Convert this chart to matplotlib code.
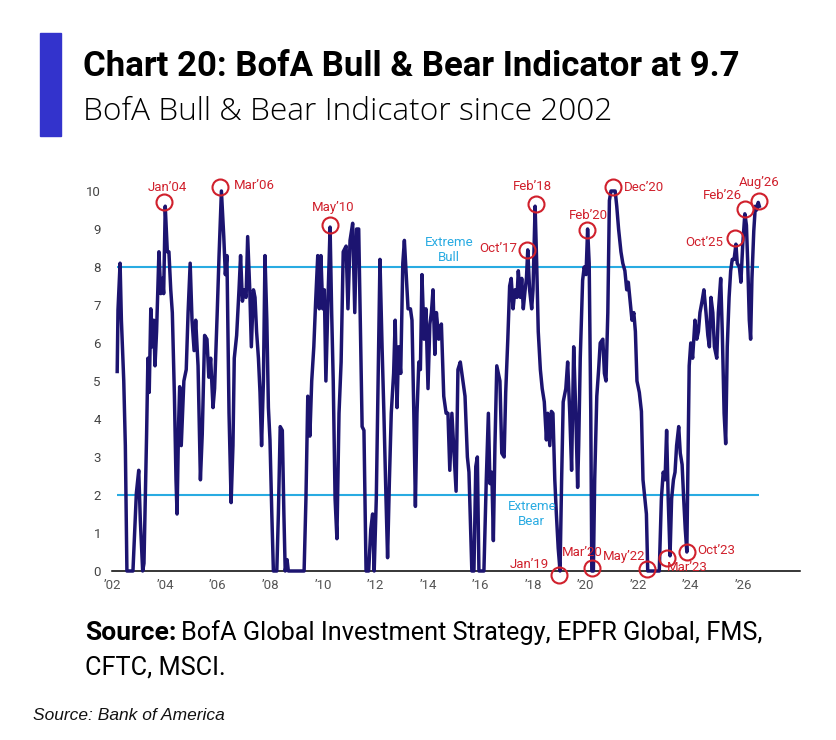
import numpy as np
import matplotlib
matplotlib.use("Agg")
import matplotlib.pyplot as plt
from matplotlib import font_manager
from matplotlib.patches import Rectangle

# BofA Bull & Bear Indicator
dates = [
    2002.16, 2002.19, 2002.27, 2002.32, 2002.41, 2002.47, 2002.53, 2002.76, 2002.89, 2002.98,
    2003.04, 2003.13, 2003.18, 2003.28, 2003.33, 2003.38, 2003.44, 2003.50, 2003.55, 2003.60,
    2003.66, 2003.71, 2003.75, 2003.82, 2003.88, 2003.93, 2003.99, 2004.07, 2004.13, 2004.20,
    2004.26, 2004.34, 2004.40, 2004.44, 2004.50, 2004.54, 2004.60, 2004.70, 2004.79, 2004.86,
    2004.94, 2005.01, 2005.09, 2005.15, 2005.24, 2005.33, 2005.40, 2005.49, 2005.58, 2005.65,
    2005.72, 2005.81, 2005.87, 2005.97, 2006.04, 2006.13, 2006.22, 2006.28, 2006.34, 2006.42,
    2006.50, 2006.57, 2006.62, 2006.71, 2006.80, 2006.86, 2006.93, 2007.00, 2007.07, 2007.13,
    2007.21, 2007.27, 2007.35, 2007.41, 2007.47, 2007.54, 2007.60, 2007.66, 2007.73, 2007.79,
    2007.86, 2007.92, 2007.98, 2008.05, 2008.11, 2008.24, 2008.30, 2008.37, 2008.45, 2008.51,
    2008.56, 2008.63, 2008.68, 2009.28, 2009.35, 2009.42, 2009.50, 2009.57, 2009.65, 2009.72,
    2009.80, 2009.86, 2009.92, 2009.99, 2010.05, 2010.11, 2010.20, 2010.27, 2010.33, 2010.39,
    2010.46, 2010.53, 2010.61, 2010.69, 2010.77, 2010.88, 2010.95, 2011.03, 2011.13, 2011.21,
    2011.28, 2011.36, 2011.44, 2011.49, 2011.56, 2011.64, 2011.74, 2011.82, 2011.89, 2011.95,
    2012.03, 2012.10, 2012.17, 2012.25, 2012.32, 2012.40, 2012.46, 2012.53, 2012.60, 2012.69,
    2012.75, 2012.82, 2012.88, 2012.96, 2013.04, 2013.10, 2013.17, 2013.24, 2013.33, 2013.39,
    2013.46, 2013.52, 2013.58, 2013.65, 2013.71, 2013.77, 2013.85, 2013.92, 2014.00, 2014.07,
    2014.13, 2014.19, 2014.26, 2014.32, 2014.41, 2014.51, 2014.60, 2014.69, 2014.76, 2014.83,
    2014.91, 2014.99, 2015.07, 2015.14, 2015.23, 2015.33, 2015.41, 2015.50, 2015.56, 2015.67,
    2015.75, 2015.82, 2015.88, 2015.94, 2016.13, 2016.22, 2016.30, 2016.36, 2016.43, 2016.49,
    2016.55, 2016.62, 2016.68, 2016.74, 2016.81, 2016.90, 2016.96, 2017.04, 2017.11, 2017.17,
    2017.24, 2017.31, 2017.39, 2017.44, 2017.52, 2017.57, 2017.63, 2017.70, 2017.75, 2017.80,
    2017.87, 2017.95, 2018.00, 2018.08, 2018.14, 2018.20, 2018.28, 2018.35, 2018.43, 2018.51,
    2018.56, 2018.64, 2018.70, 2018.76, 2018.83, 2018.89, 2018.96, 2019.03, 2019.09, 2019.15,
    2019.25, 2019.32, 2019.40, 2019.47, 2019.55, 2019.63, 2019.70, 2019.74, 2019.80, 2019.89,
    2019.95, 2020.02, 2020.08, 2020.14, 2020.20, 2020.24, 2020.30, 2020.35, 2020.43, 2020.50,
    2020.56, 2020.66, 2020.72, 2020.78, 2020.85, 2020.91, 2020.97, 2021.13, 2021.19, 2021.26,
    2021.35, 2021.42, 2021.50, 2021.57, 2021.63, 2021.70, 2021.77, 2021.84, 2021.90, 2021.96,
    2022.05, 2022.13, 2022.19, 2022.26, 2022.32, 2022.37, 2022.81, 2022.89, 2022.96, 2023.03,
    2023.09, 2023.15, 2023.22, 2023.28, 2023.35, 2023.41, 2023.47, 2023.55, 2023.61, 2023.68,
    2023.74, 2023.80, 2023.86, 2023.95, 2024.01, 2024.08, 2024.17, 2024.24, 2024.30, 2024.36,
    2024.44, 2024.51, 2024.59, 2024.66, 2024.72, 2024.78, 2024.85, 2024.91, 2025.00, 2025.06,
    2025.15, 2025.21, 2025.28, 2025.34, 2025.40, 2025.47, 2025.53, 2025.59, 2025.66, 2025.73,
    2025.78, 2025.86, 2025.92, 2025.99, 2026.07, 2026.13, 2026.18, 2026.24, 2026.29, 2026.34,
    2026.41, 2026.47, 2026.52, 2026.58, 2026.62,
]
values = [
    5.25, 6.87, 8.1, 6.6, 5.0, 3.3, 0.0, 0.0, 2.05, 2.65,
    1.35, 0.0, 0.2, 3.6, 5.6, 4.7, 6.9, 5.9, 6.6, 5.4,
    6.3, 7.5, 8.4, 7.3, 7.7, 7.3, 9.6, 8.4, 8.4, 7.4,
    6.8, 4.6, 2.4, 1.5, 3.9, 4.85, 3.3, 5.0, 5.3, 6.8,
    8.1, 6.6, 5.8, 6.6, 5.4, 2.4, 3.6, 6.2, 6.1, 5.1,
    5.6, 4.3, 4.8, 6.8, 8.3, 10.0, 8.8, 7.8, 8.3, 4.15,
    1.8, 3.3, 5.6, 6.2, 7.4, 8.3, 7.1, 7.4, 7.2, 8.8,
    7.4, 5.9, 7.4, 7.2, 6.3, 5.6, 4.7, 3.3, 5.0, 8.3,
    6.6, 4.3, 3.45, 1.5, 0.0, 0.0, 1.5, 3.8, 3.7, 1.5,
    0.0, 0.3, 0.0, 0.0, 1.9, 4.6, 3.55, 5.0, 5.9, 7.1,
    8.3, 6.9, 8.3, 6.9, 7.4, 5.0, 7.4, 9.05, 6.8, 5.0,
    1.9, 0.85, 4.15, 5.5, 8.4, 8.55, 6.9, 8.7, 9.15, 6.8,
    9.0, 9.0, 5.9, 3.8, 3.7, 0.0, 0.0, 1.1, 1.5, 0.0,
    1.9, 5.0, 8.2, 5.9, 4.15, 1.9, 0.35, 2.4, 4.15, 5.2,
    6.6, 4.3, 5.9, 5.2, 8.1, 8.7, 7.8, 6.9, 6.9, 6.6,
    4.15, 1.7, 4.15, 5.5, 5.3, 7.8, 6.1, 6.9, 4.8, 6.5,
    6.8, 7.4, 5.7, 6.8, 6.1, 6.5, 4.6, 4.15, 4.15, 2.65,
    4.15, 3.1, 2.1, 5.3, 5.5, 5.0, 4.6, 3.0, 2.6, 0.0,
    0.0, 2.75, 3.0, 0.0, 0.0, 2.4, 4.15, 2.3, 2.6, 0.8,
    3.3, 5.4, 5.2, 5.0, 3.1, 3.0, 4.7, 6.1, 7.5, 7.7,
    6.9, 7.4, 7.2, 7.9, 7.2, 7.7, 6.9, 7.4, 7.7, 8.45,
    7.4, 6.9, 7.4, 9.6, 8.1, 6.3, 5.3, 4.8, 4.45, 3.45,
    4.15, 3.3, 4.2, 4.15, 2.4, 1.5, 0.6, 0.0, 2.4, 4.45,
    4.8, 5.5, 4.15, 2.65, 5.9, 4.15, 2.2, 3.3, 5.6, 7.65,
    8.0, 7.8, 9.0, 8.1, 4.2, 0.0, 0.0, 2.4, 4.6, 5.3,
    6.0, 6.1, 5.2, 5.0, 6.8, 9.75, 10.0, 10.0, 9.6, 9.0,
    8.4, 8.1, 7.9, 7.4, 7.6, 7.1, 6.6, 6.8, 6.3, 5.0,
    4.7, 4.2, 2.4, 1.9, 1.5, 0.0, 0.0, 1.9, 2.6, 2.4,
    3.7, 1.9, 0.4, 1.9, 2.4, 2.6, 3.3, 3.8, 3.1, 2.8,
    1.9, 1.1, 0.5, 5.4, 6.0, 5.6, 6.6, 6.1, 6.3, 6.8,
    7.1, 7.4, 6.8, 6.2, 5.9, 7.2, 6.8, 5.9, 5.6, 6.8,
    7.7, 6.3, 4.15, 3.35, 5.9, 7.2, 7.9, 8.2, 8.2, 8.6,
    8.1, 8.0, 7.6, 8.6, 9.4, 9.1, 8.1, 6.6, 6.1, 7.7,
    8.95, 9.6, 9.5, 9.7, 9.6,
]

bull_level = 8
bear_level = 2

# circled extremes
ann_labels = ["Jan’04", "Mar’06", "May’10", "Oct’17", "Feb’18", "Jan’19", "Feb’20", "Mar’20",
              "Dec’20", "May’22", "Mar’23", "Oct’23", "Oct’25", "Feb’26", "Aug’26"]
ann_dates = [2003.94, 2006.08, 2010.27, 2017.77, 2018.10, 2018.99, 2020.05, 2020.24,
             2021.05, 2022.34, 2023.10, 2023.86, 2025.70, 2026.08, 2026.61]
ann_values = [9.71, 10.1, 9.1, 8.45, 9.66, -0.1, 8.97, 0.08,
              10.1, 0.05, 0.35, 0.5, 8.76, 9.53, 9.74]
# label offset in pixels from the circle + alignment
ann_offsets = [(3, 15, "center"), (14, 2, "left"), (3, 18, "center"), (-10, 1, "right"),
               (-3, 17, "center"), (-10, 10, "right"), (2, 15, "center"), (-9, 15, "center"),
               (11, 0, "left"), (-23, 13, "center"), (20, -10, "center"), (10, 2, "left"),
               (-12, -4, "right"), (-3, 13, "right"), (0, 18, "center")]

xtick_years = list(range(2002, 2027, 2))
xtick_labels = ["’%02d" % (y % 100) for y in xtick_years]
ytick_values = list(range(0, 11))

names = {f.name for f in font_manager.fontManager.ttflist}
narrow = "Liberation Sans Narrow" if "Liberation Sans Narrow" in names else "Roboto"
plt.rcParams["font.family"] = [narrow, "DejaVu Sans"]

navy = "#1c1470"
cyan = "#29abe2"
red = "#d0202c"

fig = plt.figure(figsize=(8.36, 7.4), dpi=100)
ax = fig.add_axes([112 / 836, 1 - 571 / 740, 688 / 836, (571 - 175.8) / 740])

ax.hlines([bull_level, bear_level], dates[0], 2026.61, color=cyan, lw=1.5, zorder=2)
ax.plot(dates, values, color=navy, lw=2.5, clip_on=False, zorder=3, solid_joinstyle="round")

ax.set_xlim(2001.962, 2028.171)
ax.set_ylim(0, 10.4)
for s in ["top", "right", "left"]:
    ax.spines[s].set_visible(False)
ax.spines["bottom"].set_color("black")
ax.spines["bottom"].set_linewidth(1.1)
ax.spines["bottom"].set_zorder(1)

ax.set_xticks(xtick_years)
ax.set_xticklabels(xtick_labels)
ax.set_yticks(ytick_values)
ax.tick_params(axis="x", length=0, pad=6, labelsize=9.5, labelcolor="#555555")
ax.tick_params(axis="y", length=0, pad=8, labelsize=9.5, labelcolor="#444444")

ax.text(2014.80, 8.45, "Extreme\nBull", color=cyan, fontsize=9.5, ha="center", va="center",
        linespacing=1.15)
ax.text(2017.95, 1.5, "Extreme\nBear", color=cyan, fontsize=9.5, ha="center", va="center",
        linespacing=1.15)

for lab, d, v, (dx, dy, ha) in zip(ann_labels, ann_dates, ann_values, ann_offsets):
    ax.plot(d, v, marker="o", ms=11.5, mfc="none", mec=red, mew=1.5, clip_on=False, zorder=4)
    ax.annotate(lab, (d, v), xytext=(dx, dy), textcoords="offset pixels", ha=ha, va="center",
                color=red, fontsize=9.5, annotation_clip=False)

# header
fig.patches.append(Rectangle((40 / 836, 1 - 136 / 740), 21 / 836, 103 / 740,
                             transform=fig.transFigure, color="#3333cc"))
fig.text(83 / 836, 1 - 67 / 740, "Chart 20: BofA Bull & Bear Indicator at 9.7",
         fontsize=25, weight="bold", va="center", ha="left", color="black")
fig.text(83 / 836, 1 - 112 / 740, "BofA Bull & Bear Indicator since 2002",
         fontsize=22.8, va="center", ha="left", color="black", family=["Open Sans", "DejaVu Sans"],
         weight="light")

# footer
src = fig.text(85 / 836, 1 - 633 / 740, "Source:", fontsize=19, weight="bold", va="center")
fig.canvas.draw()
bb = src.get_window_extent()
fig.text(bb.x1 / 836 + 5 / 836, 1 - 633 / 740,
         "BofA Global Investment Strategy, EPFR Global, FMS,", fontsize=18.2, va="center")
fig.text(85 / 836, 1 - 668 / 740, "CFTC, MSCI.", fontsize=18.2, va="center")
fig.text(33 / 836, 1 - 716 / 740, "Source: Bank of America", fontsize=12.5, style="italic",
         va="center", family=["Liberation Sans", "DejaVu Sans"], color="#111111")

fig.savefig("out.png", dpi=100)
